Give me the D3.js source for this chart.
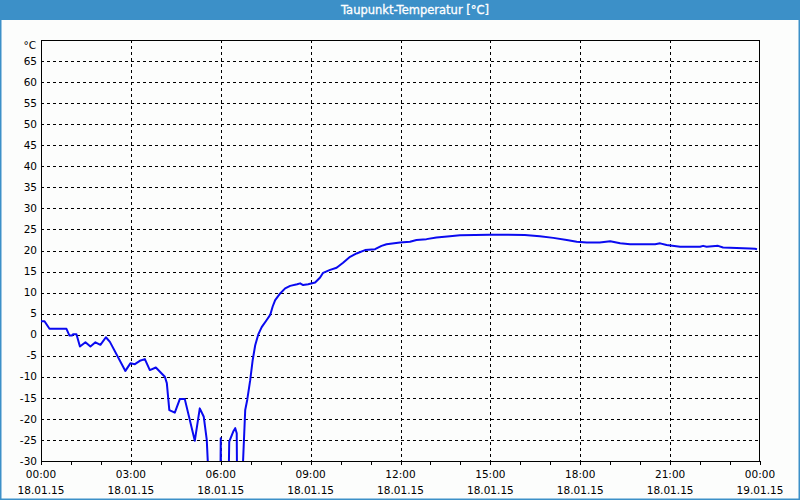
<!DOCTYPE html>
<html>
<head>
<meta charset="utf-8">
<script src="https://cdn.jsdelivr.net/npm/d3@7"></script>
<style>
  html, body { margin: 0; padding: 0; background: #fcfdfc; }
  svg { display: block; font-family: "DejaVu Sans", sans-serif; }
</style>
</head>
<body>
<svg id="chart"></svg>
<script>
const WIDTH = 800;
const HEIGHT = 500;
const MARGIN = { top: 40, right: 40, bottom: 39, left: 41 };
const TITLE = "Taupunkt-Temperatur [°C]";
const UNIT = "°C";
const DAY = "2015-01-18";
const NEXT_DAY = "2015-01-19";
const Y_MIN = -30;
const Y_MAX = 70;
const Y_TICKS = [-30, -25, -20, -15, -10, -5, 0, 5, 10, 15, 20, 25, 30, 35, 40, 45, 50, 55, 60, 65];
const X_LABELS = ["00:00", "03:00", "06:00", "09:00", "12:00", "15:00", "18:00", "21:00", "00:00"];
const X_DATES = ["18.01.15", "18.01.15", "18.01.15", "18.01.15", "18.01.15", "18.01.15", "18.01.15", "18.01.15", "19.01.15"];

// dew point readings (values below -30 are off the chart)
const times = [
  "00:00", "00:07", "00:17", "00:51", "00:57", "01:02", "01:04", "01:11", "01:18", "01:29",
  "01:39", "01:49", "01:59", "02:10", "02:18", "02:49", "02:59", "03:08", "03:18", "03:28",
  "03:38", "03:50", "04:08", "04:12", "04:17", "04:28", "04:38", "04:48", "05:08", "05:18",
  "05:26", "05:32", "05:38", "05:59", "06:00", "06:01", "06:15", "06:17", "06:25", "06:29",
  "06:32", "06:33", "06:44", "06:49", "06:53", "06:59", "07:04", "07:09", "07:15", "07:22",
  "07:32", "07:39", "07:44", "07:49", "07:59", "08:09", "08:19", "08:33", "08:39", "08:45",
  "08:55", "09:09", "09:19", "09:25", "09:39", "09:52", "10:05", "10:19", "10:32", "10:49",
  "11:09", "11:22", "11:32", "11:59", "12:19", "12:32", "12:52", "13:12", "13:39", "13:59",
  "14:59", "16:09", "16:39", "17:06", "17:33", "17:53", "18:13", "18:39", "19:00", "19:20",
  "19:40", "20:30", "20:40", "20:53", "21:20", "22:00", "22:06", "22:13", "22:36", "22:46",
  "23:40", "23:50", "23:54"
];
const values = [
  3.2, 3.2, 1.4, 1.4, -0.2, -0.2, 0.1, 0.1, -2.8, -1.8,
  -2.8, -1.8, -2.4, -0.6, -1.7, -8.6, -6.8, -7.0, -6.2, -5.8,
  -8.4, -7.8, -10.0, -11.5, -17.9, -18.5, -15.3, -15.3, -25.2, -17.5,
  -19.5, -25.0, -40, -40, -24.6, -40, -40, -25.4, -23.0, -22.2,
  -23.4, -40, -32, -17.9, -15.5, -10.8, -6.0, -2.5, 0.0, 1.8,
  3.5, 4.7, 6.7, 8.2, 9.8, 11.0, 11.6, 12.0, 12.2, 11.8,
  12.0, 12.4, 13.6, 14.7, 15.4, 15.9, 17.1, 18.5, 19.3, 20.1,
  20.3, 21.1, 21.5, 21.9, 22.1, 22.5, 22.7, 23.1, 23.4, 23.6,
  23.75, 23.7, 23.4, 23.0, 22.5, 22.1, 21.9, 21.9, 22.2, 21.7,
  21.5, 21.5, 21.7, 21.3, 20.9, 20.9, 21.1, 20.9, 21.1, 20.7,
  20.5, 20.4, 20.3
];

const parse = d3.timeParse("%Y-%m-%d %H:%M");
const data = times.map((t, i) => ({ date: parse(`${DAY} ${t}`), value: values[i] }));

const svg = d3.select("#chart").attr("width", WIDTH).attr("height", HEIGHT);

// window frame + title bar
svg.append("rect")
  .attr("x", 0.5).attr("y", 0.5)
  .attr("width", WIDTH - 1).attr("height", HEIGHT - 1)
  .attr("fill", "#fcfdfc").attr("stroke", "#3c90c8").attr("stroke-width", 2);
svg.append("rect")
  .attr("x", 0).attr("y", 0).attr("width", WIDTH).attr("height", 20)
  .attr("fill", "#3c90c8");
svg.append("text")
  .attr("x", 415).attr("y", 10).attr("dy", "0.35em")
  .attr("text-anchor", "middle")
  .attr("fill", "#ffffff").attr("font-size", 11.5)
  .attr("stroke", "#ffffff").attr("stroke-width", 0.3)
  .text(TITLE);

const innerW = WIDTH - MARGIN.left - MARGIN.right;
const innerH = HEIGHT - MARGIN.top - MARGIN.bottom;

const x = d3.scaleTime()
  .domain([parse(`${DAY} 00:00`), parse(`${NEXT_DAY} 00:00`)])
  .range([MARGIN.left, MARGIN.left + innerW]);
const y = d3.scaleLinear()
  .domain([Y_MIN, Y_MAX])
  .range([MARGIN.top + innerH, MARGIN.top]);

const g = svg.append("g");

// dashed grid
const majorTimes = x.ticks(d3.timeHour.every(3));
g.selectAll(".vgrid")
  .data(majorTimes.slice(1, -1))
  .enter().append("line")
  .attr("x1", (d) => Math.round(x(d)) + 0.5).attr("x2", (d) => Math.round(x(d)) + 0.5)
  .attr("y1", MARGIN.top).attr("y2", MARGIN.top + innerH)
  .attr("stroke", "#000").attr("stroke-dasharray", "3,3");
g.selectAll(".hgrid")
  .data(Y_TICKS.filter((d) => d > Y_MIN))
  .enter().append("line")
  .attr("x1", MARGIN.left).attr("x2", MARGIN.left + innerW)
  .attr("y1", (d) => Math.round(y(d)) + 0.5).attr("y2", (d) => Math.round(y(d)) + 0.5)
  .attr("stroke", "#000").attr("stroke-dasharray", "3,3");

// plot border
g.append("rect")
  .attr("x", MARGIN.left + 0.5).attr("y", MARGIN.top + 0.5)
  .attr("width", innerW - 1).attr("height", innerH)
  .attr("fill", "none").attr("stroke", "#000");

// hourly ticks below x axis
g.selectAll(".xtick")
  .data(x.ticks(d3.timeHour.every(1)))
  .enter().append("line")
  .attr("x1", (d) => Math.round(x(d)) + 0.5).attr("x2", (d) => Math.round(x(d)) + 0.5)
  .attr("y1", MARGIN.top + innerH).attr("y2", MARGIN.top + innerH + 4)
  .attr("stroke", "#000");

// x labels
g.selectAll(".xlab")
  .data(majorTimes)
  .enter().append("text")
  .attr("x", (d) => x(d)).attr("y", MARGIN.top + innerH + 17)
  .attr("text-anchor", "middle").attr("font-size", 10.5).attr("fill", "#000")
  .text((d, i) => X_LABELS[i]);
g.selectAll(".xdate")
  .data(majorTimes)
  .enter().append("text")
  .attr("x", (d) => x(d)).attr("y", MARGIN.top + innerH + 33)
  .attr("text-anchor", "middle").attr("font-size", 10.5).attr("fill", "#000")
  .text((d, i) => X_DATES[i]);

// y labels
g.selectAll(".ylab")
  .data(Y_TICKS)
  .enter().append("text")
  .attr("x", MARGIN.left - 4).attr("y", (d) => y(d)).attr("dy", "0.35em")
  .attr("text-anchor", "end").attr("font-size", 10.5).attr("fill", "#000")
  .text((d) => d);
g.append("text")
  .attr("x", MARGIN.left - 5).attr("y", MARGIN.top + 5).attr("dy", "0.35em")
  .attr("text-anchor", "end").attr("font-size", 10.5).attr("fill", "#000")
  .text(UNIT);

// line, clipped to plot area
svg.append("clipPath").attr("id", "plot-clip")
  .append("rect")
  .attr("x", MARGIN.left).attr("y", MARGIN.top)
  .attr("width", innerW).attr("height", innerH);

const line = d3.line()
  .x((d) => x(d.date))
  .y((d) => y(d.value));

g.append("path")
  .datum(data)
  .attr("clip-path", "url(#plot-clip)")
  .attr("fill", "none")
  .attr("stroke", "#0a0af0")
  .attr("stroke-width", 2)
  .attr("stroke-linejoin", "round")
  .attr("d", line);
</script>
</body>
</html>
